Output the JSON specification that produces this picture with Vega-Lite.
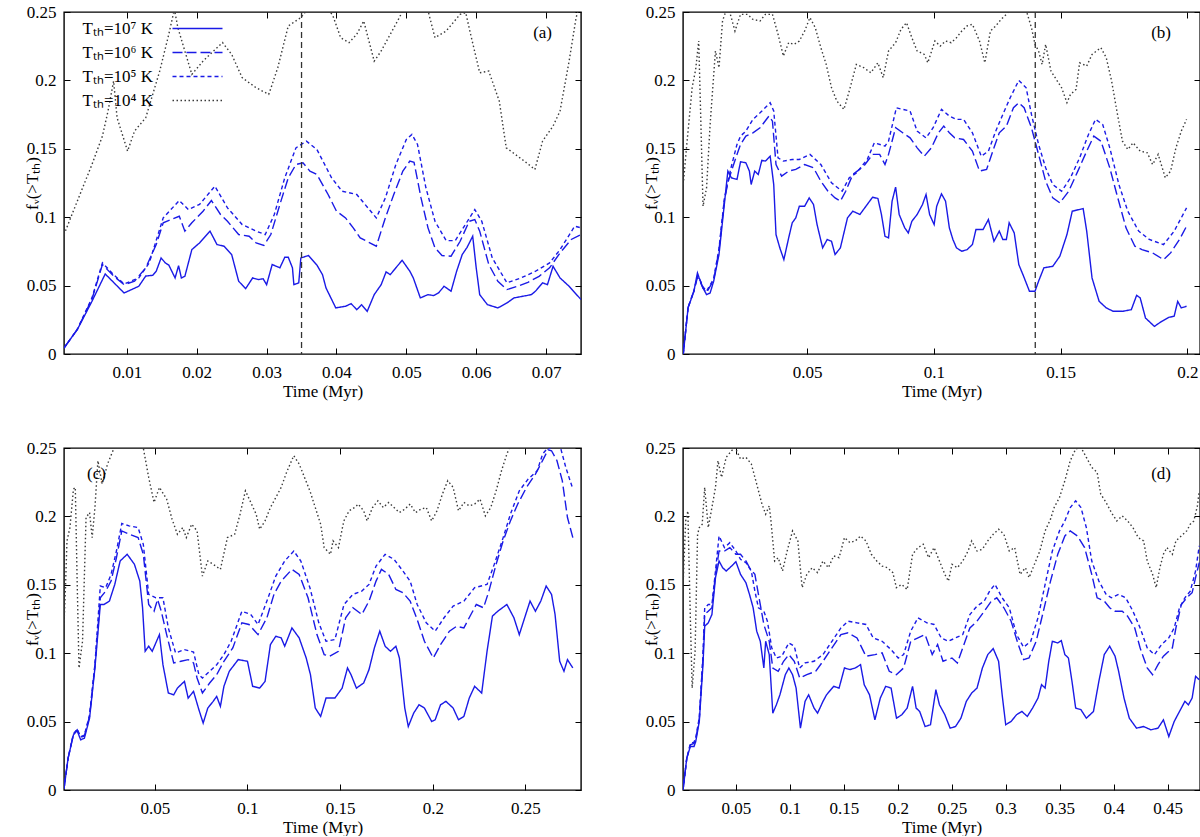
{
"$schema":"https://vega.github.io/schema/vega-lite/v6.json",
"padding":{"left":22,"top":2,"right":0,"bottom":0},
"background":"white",
"config":{"font":"Liberation Serif","view":{"stroke":"#000","strokeWidth":1.4},
"axis":{"grid":false,"domain":false,"ticks":true,"tickSize":-6,"tickColor":"#000","tickWidth":1,"labelFont":"Liberation Serif","labelFontSize":17,"labelColor":"#000","labelPadding":14,"labelFlush":false,"labelOverlap":false,"titleFont":"Liberation Serif","titleFontSize":17,"titleFontWeight":"normal","titleColor":"#000","titlePadding":3},
"axisX":{"labelPadding":16},
"title":{"font":"Liberation Serif","fontSize":17,"fontWeight":"normal","color":"#000"}},
"datasets":{
"main":[
{"p":"a","s":"T7","t":0.001,"f":0.0044},{"p":"a","s":"T7","t":0.0029,"f":0.0178},{"p":"a","s":"T7","t":0.005,"f":0.0385},{"p":"a","s":"T7","t":0.0069,"f":0.0585},{"p":"a","s":"T7","t":0.0096,"f":0.0446},{"p":"a","s":"T7","t":0.0117,"f":0.0495},{"p":"a","s":"T7","t":0.0127,"f":0.057},{"p":"a","s":"T7","t":0.0137,"f":0.0575},{"p":"a","s":"T7","t":0.0142,"f":0.0605},{"p":"a","s":"T7","t":0.0149,"f":0.0702},{"p":"a","s":"T7","t":0.0155,"f":0.0666},{"p":"a","s":"T7","t":0.016,"f":0.065},{"p":"a","s":"T7","t":0.0169,"f":0.0556},{"p":"a","s":"T7","t":0.0174,"f":0.0646},{"p":"a","s":"T7","t":0.0178,"f":0.0556},{"p":"a","s":"T7","t":0.0183,"f":0.0568},{"p":"a","s":"T7","t":0.0193,"f":0.0763},{"p":"a","s":"T7","t":0.0204,"f":0.0812},{"p":"a","s":"T7","t":0.0219,"f":0.0898},{"p":"a","s":"T7","t":0.0229,"f":0.08},{"p":"a","s":"T7","t":0.0239,"f":0.0788},{"p":"a","s":"T7","t":0.025,"f":0.0727},{"p":"a","s":"T7","t":0.026,"f":0.0532},{"p":"a","s":"T7","t":0.027,"f":0.0478},{"p":"a","s":"T7","t":0.028,"f":0.0556},{"p":"a","s":"T7","t":0.0288,"f":0.0544},{"p":"a","s":"T7","t":0.0295,"f":0.055},{"p":"a","s":"T7","t":0.03,"f":0.0507},{"p":"a","s":"T7","t":0.0308,"f":0.0654},{"p":"a","s":"T7","t":0.0319,"f":0.063},{"p":"a","s":"T7","t":0.0326,"f":0.0707},{"p":"a","s":"T7","t":0.0331,"f":0.0707},{"p":"a","s":"T7","t":0.0337,"f":0.063},{"p":"a","s":"T7","t":0.0339,"f":0.0507},{"p":"a","s":"T7","t":0.0346,"f":0.052},{"p":"a","s":"T7","t":0.0349,"f":0.0702},{"p":"a","s":"T7","t":0.036,"f":0.072},{"p":"a","s":"T7","t":0.0372,"f":0.065},{"p":"a","s":"T7","t":0.038,"f":0.058},{"p":"a","s":"T7","t":0.0385,"f":0.0483},{"p":"a","s":"T7","t":0.0399,"f":0.0337},{"p":"a","s":"T7","t":0.0413,"f":0.0349},{"p":"a","s":"T7","t":0.0421,"f":0.0368},{"p":"a","s":"T7","t":0.0429,"f":0.0324},{"p":"a","s":"T7","t":0.0436,"f":0.036},{"p":"a","s":"T7","t":0.0444,"f":0.0312},{"p":"a","s":"T7","t":0.0454,"f":0.0434},{"p":"a","s":"T7","t":0.0464,"f":0.0507},{"p":"a","s":"T7","t":0.0471,"f":0.06},{"p":"a","s":"T7","t":0.0477,"f":0.058},{"p":"a","s":"T7","t":0.0485,"f":0.063},{"p":"a","s":"T7","t":0.0494,"f":0.0685},{"p":"a","s":"T7","t":0.0505,"f":0.0605},{"p":"a","s":"T7","t":0.051,"f":0.0556},{"p":"a","s":"T7","t":0.052,"f":0.041},{"p":"a","s":"T7","t":0.0531,"f":0.0434},{"p":"a","s":"T7","t":0.0539,"f":0.0427},{"p":"a","s":"T7","t":0.0546,"f":0.0446},{"p":"a","s":"T7","t":0.0554,"f":0.0495},{"p":"a","s":"T7","t":0.0564,"f":0.0459},{"p":"a","s":"T7","t":0.0572,"f":0.0605},{"p":"a","s":"T7","t":0.058,"f":0.0727},{"p":"a","s":"T7","t":0.0587,"f":0.078},{"p":"a","s":"T7","t":0.0595,"f":0.0861},{"p":"a","s":"T7","t":0.06,"f":0.063},{"p":"a","s":"T7","t":0.0605,"f":0.0434},{"p":"a","s":"T7","t":0.0616,"f":0.0361},{"p":"a","s":"T7","t":0.0631,"f":0.0337},{"p":"a","s":"T7","t":0.0644,"f":0.0373},{"p":"a","s":"T7","t":0.0654,"f":0.041},{"p":"a","s":"T7","t":0.0672,"f":0.0427},{"p":"a","s":"T7","t":0.0679,"f":0.0434},{"p":"a","s":"T7","t":0.0685,"f":0.046},{"p":"a","s":"T7","t":0.0695,"f":0.052},{"p":"a","s":"T7","t":0.0702,"f":0.0507},{"p":"a","s":"T7","t":0.071,"f":0.0641},{"p":"a","s":"T7","t":0.072,"f":0.0556},{"p":"a","s":"T7","t":0.0733,"f":0.0495},{"p":"a","s":"T7","t":0.075,"f":0.0398},
{"p":"a","s":"T6","t":0.001,"f":0.0044},{"p":"a","s":"T6","t":0.0029,"f":0.018},{"p":"a","s":"T6","t":0.005,"f":0.04},{"p":"a","s":"T6","t":0.0065,"f":0.0654},{"p":"a","s":"T6","t":0.0081,"f":0.057},{"p":"a","s":"T6","t":0.0096,"f":0.0507},{"p":"a","s":"T6","t":0.0111,"f":0.0532},{"p":"a","s":"T6","t":0.0127,"f":0.063},{"p":"a","s":"T6","t":0.0142,"f":0.08},{"p":"a","s":"T6","t":0.0152,"f":0.0959},{"p":"a","s":"T6","t":0.0175,"f":0.1007},{"p":"a","s":"T6","t":0.0183,"f":0.0898},{"p":"a","s":"T6","t":0.0193,"f":0.0959},{"p":"a","s":"T6","t":0.0209,"f":0.1044},{"p":"a","s":"T6","t":0.0221,"f":0.1122},{"p":"a","s":"T6","t":0.0234,"f":0.102},{"p":"a","s":"T6","t":0.0244,"f":0.097},{"p":"a","s":"T6","t":0.026,"f":0.0873},{"p":"a","s":"T6","t":0.0275,"f":0.0861},{"p":"a","s":"T6","t":0.0285,"f":0.0812},{"p":"a","s":"T6","t":0.0296,"f":0.0793},{"p":"a","s":"T6","t":0.0306,"f":0.0873},{"p":"a","s":"T6","t":0.0319,"f":0.1093},{"p":"a","s":"T6","t":0.0331,"f":0.1288},{"p":"a","s":"T6","t":0.0342,"f":0.1385},{"p":"a","s":"T6","t":0.0352,"f":0.1398},{"p":"a","s":"T6","t":0.0362,"f":0.1337},{"p":"a","s":"T6","t":0.0372,"f":0.1312},{"p":"a","s":"T6","t":0.0388,"f":0.1166},{"p":"a","s":"T6","t":0.04,"f":0.1044},{"p":"a","s":"T6","t":0.0413,"f":0.0995},{"p":"a","s":"T6","t":0.0424,"f":0.0922},{"p":"a","s":"T6","t":0.0434,"f":0.0849},{"p":"a","s":"T6","t":0.0457,"f":0.0788},{"p":"a","s":"T6","t":0.047,"f":0.0995},{"p":"a","s":"T6","t":0.0482,"f":0.1166},{"p":"a","s":"T6","t":0.0495,"f":0.1337},{"p":"a","s":"T6","t":0.0505,"f":0.141},{"p":"a","s":"T6","t":0.0511,"f":0.1402},{"p":"a","s":"T6","t":0.0521,"f":0.1141},{"p":"a","s":"T6","t":0.0531,"f":0.0922},{"p":"a","s":"T6","t":0.0541,"f":0.0776},{"p":"a","s":"T6","t":0.0551,"f":0.072},{"p":"a","s":"T6","t":0.0564,"f":0.0715},{"p":"a","s":"T6","t":0.0577,"f":0.0824},{"p":"a","s":"T6","t":0.059,"f":0.097},{"p":"a","s":"T6","t":0.0598,"f":0.0983},{"p":"a","s":"T6","t":0.0605,"f":0.0898},{"p":"a","s":"T6","t":0.0618,"f":0.0654},{"p":"a","s":"T6","t":0.0631,"f":0.0532},{"p":"a","s":"T6","t":0.0644,"f":0.0471},{"p":"a","s":"T6","t":0.0659,"f":0.0495},{"p":"a","s":"T6","t":0.0674,"f":0.0524},{"p":"a","s":"T6","t":0.069,"f":0.0568},{"p":"a","s":"T6","t":0.0705,"f":0.063},{"p":"a","s":"T6","t":0.072,"f":0.0739},{"p":"a","s":"T6","t":0.0736,"f":0.0837},{"p":"a","s":"T6","t":0.075,"f":0.0873},
{"p":"a","s":"T5","t":0.001,"f":0.0044},{"p":"a","s":"T5","t":0.0029,"f":0.018},{"p":"a","s":"T5","t":0.005,"f":0.041},{"p":"a","s":"T5","t":0.0065,"f":0.0666},{"p":"a","s":"T5","t":0.0081,"f":0.058},{"p":"a","s":"T5","t":0.0096,"f":0.0512},{"p":"a","s":"T5","t":0.0117,"f":0.0556},{"p":"a","s":"T5","t":0.0132,"f":0.0666},{"p":"a","s":"T5","t":0.0152,"f":0.0995},{"p":"a","s":"T5","t":0.0175,"f":0.1122},{"p":"a","s":"T5","t":0.0188,"f":0.1056},{"p":"a","s":"T5","t":0.0204,"f":0.1093},{"p":"a","s":"T5","t":0.0226,"f":0.1227},{"p":"a","s":"T5","t":0.0244,"f":0.1068},{"p":"a","s":"T5","t":0.0265,"f":0.0946},{"p":"a","s":"T5","t":0.0285,"f":0.0898},{"p":"a","s":"T5","t":0.0298,"f":0.0873},{"p":"a","s":"T5","t":0.0311,"f":0.102},{"p":"a","s":"T5","t":0.0326,"f":0.1288},{"p":"a","s":"T5","t":0.0342,"f":0.1507},{"p":"a","s":"T5","t":0.0357,"f":0.1556},{"p":"a","s":"T5","t":0.0372,"f":0.1495},{"p":"a","s":"T5","t":0.0393,"f":0.1288},{"p":"a","s":"T5","t":0.0408,"f":0.119},{"p":"a","s":"T5","t":0.0429,"f":0.1166},{"p":"a","s":"T5","t":0.0457,"f":0.0995},{"p":"a","s":"T5","t":0.047,"f":0.1141},{"p":"a","s":"T5","t":0.0485,"f":0.1385},{"p":"a","s":"T5","t":0.05,"f":0.1568},{"p":"a","s":"T5","t":0.0508,"f":0.1605},{"p":"a","s":"T5","t":0.0516,"f":0.1532},{"p":"a","s":"T5","t":0.0528,"f":0.1215},{"p":"a","s":"T5","t":0.0541,"f":0.097},{"p":"a","s":"T5","t":0.0557,"f":0.0829},{"p":"a","s":"T5","t":0.057,"f":0.0829},{"p":"a","s":"T5","t":0.058,"f":0.091},{"p":"a","s":"T5","t":0.0598,"f":0.1056},{"p":"a","s":"T5","t":0.0608,"f":0.097},{"p":"a","s":"T5","t":0.0623,"f":0.0702},{"p":"a","s":"T5","t":0.0644,"f":0.052},{"p":"a","s":"T5","t":0.0664,"f":0.0556},{"p":"a","s":"T5","t":0.0685,"f":0.0605},{"p":"a","s":"T5","t":0.0705,"f":0.0666},{"p":"a","s":"T5","t":0.072,"f":0.0763},{"p":"a","s":"T5","t":0.0741,"f":0.0934},{"p":"a","s":"T5","t":0.075,"f":0.0922},
{"p":"a","s":"T4","t":0.001,"f":0.0873},{"p":"a","s":"T4","t":0.0029,"f":0.1117},{"p":"a","s":"T4","t":0.005,"f":0.1385},{"p":"a","s":"T4","t":0.0065,"f":0.1593},{"p":"a","s":"T4","t":0.0073,"f":0.1776},{"p":"a","s":"T4","t":0.0081,"f":0.1995},{"p":"a","s":"T4","t":0.0086,"f":0.1727},{"p":"a","s":"T4","t":0.0101,"f":0.1483},{"p":"a","s":"T4","t":0.0111,"f":0.163},{"p":"a","s":"T4","t":0.0127,"f":0.1727},{"p":"a","s":"T4","t":0.0147,"f":0.2068},{"p":"a","s":"T4","t":0.016,"f":0.2337},{"p":"a","s":"T4","t":0.0168,"f":0.252},{"p":"a","s":"T4","t":0.0173,"f":0.2385},{"p":"a","s":"T4","t":0.0193,"f":0.2044},{"p":"a","s":"T4","t":0.0209,"f":0.2141},{"p":"a","s":"T4","t":0.0224,"f":0.2215},{"p":"a","s":"T4","t":0.0237,"f":0.2276},{"p":"a","s":"T4","t":0.025,"f":0.219},{"p":"a","s":"T4","t":0.0265,"f":0.202},{"p":"a","s":"T4","t":0.0285,"f":0.1946},{"p":"a","s":"T4","t":0.0303,"f":0.1898},{"p":"a","s":"T4","t":0.0306,"f":0.1941},{"p":"a","s":"T4","t":0.0316,"f":0.2093},{"p":"a","s":"T4","t":0.0331,"f":0.2398},{"p":"a","s":"T4","t":0.0349,"f":0.2459},{"p":"a","s":"T4","t":0.0357,"f":0.251},{"p":"a","s":"T4","t":0.0375,"f":0.262},{"p":"a","s":"T4","t":0.0395,"f":0.2471},{"p":"a","s":"T4","t":0.0406,"f":0.2312},{"p":"a","s":"T4","t":0.0418,"f":0.2276},{"p":"a","s":"T4","t":0.0429,"f":0.2337},{"p":"a","s":"T4","t":0.0439,"f":0.2434},{"p":"a","s":"T4","t":0.0454,"f":0.2141},{"p":"a","s":"T4","t":0.0464,"f":0.2215},{"p":"a","s":"T4","t":0.0477,"f":0.2337},{"p":"a","s":"T4","t":0.049,"f":0.2459},{"p":"a","s":"T4","t":0.0495,"f":0.251},{"p":"a","s":"T4","t":0.0513,"f":0.262},{"p":"a","s":"T4","t":0.0531,"f":0.251},{"p":"a","s":"T4","t":0.0541,"f":0.2312},{"p":"a","s":"T4","t":0.0557,"f":0.2361},{"p":"a","s":"T4","t":0.0577,"f":0.2483},{"p":"a","s":"T4","t":0.0585,"f":0.2495},{"p":"a","s":"T4","t":0.0592,"f":0.2337},{"p":"a","s":"T4","t":0.0605,"f":0.2056},{"p":"a","s":"T4","t":0.0618,"f":0.2068},{"p":"a","s":"T4","t":0.0633,"f":0.1849},{"p":"a","s":"T4","t":0.0643,"f":0.1507},{"p":"a","s":"T4","t":0.0656,"f":0.1459},{"p":"a","s":"T4","t":0.0669,"f":0.141},{"p":"a","s":"T4","t":0.0684,"f":0.1349},{"p":"a","s":"T4","t":0.0695,"f":0.1556},{"p":"a","s":"T4","t":0.071,"f":0.1666},{"p":"a","s":"T4","t":0.072,"f":0.1776},{"p":"a","s":"T4","t":0.0733,"f":0.2141},{"p":"a","s":"T4","t":0.0743,"f":0.2459},{"p":"a","s":"T4","t":0.075,"f":0.258},
{"p":"b","s":"T7","t":0.0011,"f":0},{"p":"b","s":"T7","t":0.003,"f":0.0337},{"p":"b","s":"T7","t":0.0053,"f":0.0459},{"p":"b","s":"T7","t":0.0067,"f":0.0593},{"p":"b","s":"T7","t":0.0074,"f":0.0556},{"p":"b","s":"T7","t":0.0089,"f":0.0483},{"p":"b","s":"T7","t":0.0103,"f":0.0434},{"p":"b","s":"T7","t":0.0117,"f":0.0446},{"p":"b","s":"T7","t":0.0131,"f":0.0532},{"p":"b","s":"T7","t":0.0152,"f":0.0727},{"p":"b","s":"T7","t":0.0173,"f":0.1093},{"p":"b","s":"T7","t":0.0187,"f":0.1337},{"p":"b","s":"T7","t":0.0201,"f":0.1288},{"p":"b","s":"T7","t":0.0223,"f":0.1276},{"p":"b","s":"T7","t":0.0237,"f":0.1405},{"p":"b","s":"T7","t":0.0258,"f":0.1398},{"p":"b","s":"T7","t":0.0272,"f":0.1337},{"p":"b","s":"T7","t":0.0279,"f":0.1239},{"p":"b","s":"T7","t":0.0293,"f":0.1337},{"p":"b","s":"T7","t":0.0307,"f":0.1312},{"p":"b","s":"T7","t":0.0321,"f":0.1415},{"p":"b","s":"T7","t":0.0335,"f":0.141},{"p":"b","s":"T7","t":0.0354,"f":0.1446},{"p":"b","s":"T7","t":0.0368,"f":0.1239},{"p":"b","s":"T7","t":0.0377,"f":0.0873},{"p":"b","s":"T7","t":0.0392,"f":0.0776},{"p":"b","s":"T7","t":0.0408,"f":0.069},{"p":"b","s":"T7","t":0.0427,"f":0.0849},{"p":"b","s":"T7","t":0.0441,"f":0.0959},{"p":"b","s":"T7","t":0.0455,"f":0.0995},{"p":"b","s":"T7","t":0.0469,"f":0.108},{"p":"b","s":"T7","t":0.049,"f":0.108},{"p":"b","s":"T7","t":0.0508,"f":0.1141},{"p":"b","s":"T7","t":0.0525,"f":0.1093},{"p":"b","s":"T7","t":0.0539,"f":0.0946},{"p":"b","s":"T7","t":0.0561,"f":0.0776},{"p":"b","s":"T7","t":0.0579,"f":0.0837},{"p":"b","s":"T7","t":0.0596,"f":0.0824},{"p":"b","s":"T7","t":0.061,"f":0.0727},{"p":"b","s":"T7","t":0.0631,"f":0.0776},{"p":"b","s":"T7","t":0.0659,"f":0.0995},{"p":"b","s":"T7","t":0.068,"f":0.1044},{"p":"b","s":"T7","t":0.0708,"f":0.102},{"p":"b","s":"T7","t":0.0737,"f":0.1093},{"p":"b","s":"T7","t":0.0758,"f":0.1146},{"p":"b","s":"T7","t":0.0779,"f":0.1137},{"p":"b","s":"T7","t":0.0793,"f":0.102},{"p":"b","s":"T7","t":0.0807,"f":0.0861},{"p":"b","s":"T7","t":0.0821,"f":0.0849},{"p":"b","s":"T7","t":0.0835,"f":0.1117},{"p":"b","s":"T7","t":0.0849,"f":0.122},{"p":"b","s":"T7","t":0.0863,"f":0.102},{"p":"b","s":"T7","t":0.0885,"f":0.0922},{"p":"b","s":"T7","t":0.0899,"f":0.0885},{"p":"b","s":"T7","t":0.0913,"f":0.097},{"p":"b","s":"T7","t":0.0934,"f":0.102},{"p":"b","s":"T7","t":0.0955,"f":0.1093},{"p":"b","s":"T7","t":0.0969,"f":0.1166},{"p":"b","s":"T7","t":0.0983,"f":0.102},{"p":"b","s":"T7","t":0.1001,"f":0.0946},{"p":"b","s":"T7","t":0.1011,"f":0.108},{"p":"b","s":"T7","t":0.103,"f":0.1171},{"p":"b","s":"T7","t":0.1046,"f":0.1117},{"p":"b","s":"T7","t":0.1061,"f":0.0922},{"p":"b","s":"T7","t":0.1075,"f":0.0837},{"p":"b","s":"T7","t":0.1089,"f":0.0776},{"p":"b","s":"T7","t":0.111,"f":0.0751},{"p":"b","s":"T7","t":0.1131,"f":0.0763},{"p":"b","s":"T7","t":0.1152,"f":0.08},{"p":"b","s":"T7","t":0.1166,"f":0.091},{"p":"b","s":"T7","t":0.1194,"f":0.091},{"p":"b","s":"T7","t":0.1215,"f":0.0983},{"p":"b","s":"T7","t":0.1237,"f":0.0824},{"p":"b","s":"T7","t":0.1258,"f":0.0898},{"p":"b","s":"T7","t":0.1272,"f":0.0837},{"p":"b","s":"T7","t":0.1286,"f":0.0837},{"p":"b","s":"T7","t":0.1297,"f":0.0959},{"p":"b","s":"T7","t":0.1317,"f":0.0885},{"p":"b","s":"T7","t":0.1335,"f":0.0654},{"p":"b","s":"T7","t":0.1354,"f":0.0568},{"p":"b","s":"T7","t":0.1377,"f":0.0459},{"p":"b","s":"T7","t":0.1399,"f":0.0459},{"p":"b","s":"T7","t":0.1413,"f":0.0532},{"p":"b","s":"T7","t":0.1434,"f":0.063},{"p":"b","s":"T7","t":0.1469,"f":0.0641},{"p":"b","s":"T7","t":0.1497,"f":0.0715},{"p":"b","s":"T7","t":0.1525,"f":0.0873},{"p":"b","s":"T7","t":0.1546,"f":0.1044},{"p":"b","s":"T7","t":0.1589,"f":0.1063},{"p":"b","s":"T7","t":0.1603,"f":0.0898},{"p":"b","s":"T7","t":0.1624,"f":0.0556},{"p":"b","s":"T7","t":0.1652,"f":0.0385},{"p":"b","s":"T7","t":0.168,"f":0.0337},{"p":"b","s":"T7","t":0.1708,"f":0.0312},{"p":"b","s":"T7","t":0.1744,"f":0.0312},{"p":"b","s":"T7","t":0.1779,"f":0.0324},{"p":"b","s":"T7","t":0.18,"f":0.0429},{"p":"b","s":"T7","t":0.1814,"f":0.041},{"p":"b","s":"T7","t":0.1835,"f":0.0263},{"p":"b","s":"T7","t":0.187,"f":0.0202},{"p":"b","s":"T7","t":0.1899,"f":0.0239},{"p":"b","s":"T7","t":0.1927,"f":0.0268},{"p":"b","s":"T7","t":0.1948,"f":0.0276},{"p":"b","s":"T7","t":0.1962,"f":0.0385},{"p":"b","s":"T7","t":0.1976,"f":0.0337},{"p":"b","s":"T7","t":0.1997,"f":0.0349},
{"p":"b","s":"T6","t":0.0011,"f":0},{"p":"b","s":"T6","t":0.003,"f":0.034},{"p":"b","s":"T6","t":0.0053,"f":0.046},{"p":"b","s":"T6","t":0.0067,"f":0.056},{"p":"b","s":"T6","t":0.0075,"f":0.054},{"p":"b","s":"T6","t":0.0089,"f":0.048},{"p":"b","s":"T6","t":0.0103,"f":0.045},{"p":"b","s":"T6","t":0.0131,"f":0.054},{"p":"b","s":"T6","t":0.0152,"f":0.076},{"p":"b","s":"T6","t":0.0173,"f":0.112},{"p":"b","s":"T6","t":0.0187,"f":0.1251},{"p":"b","s":"T6","t":0.0201,"f":0.1337},{"p":"b","s":"T6","t":0.0223,"f":0.1459},{"p":"b","s":"T6","t":0.0237,"f":0.1532},{"p":"b","s":"T6","t":0.0258,"f":0.1593},{"p":"b","s":"T6","t":0.0286,"f":0.1617},{"p":"b","s":"T6","t":0.0314,"f":0.1654},{"p":"b","s":"T6","t":0.0349,"f":0.1739},{"p":"b","s":"T6","t":0.0363,"f":0.1702},{"p":"b","s":"T6","t":0.0377,"f":0.1385},{"p":"b","s":"T6","t":0.0399,"f":0.13},{"p":"b","s":"T6","t":0.0427,"f":0.1337},{"p":"b","s":"T6","t":0.0455,"f":0.1349},{"p":"b","s":"T6","t":0.049,"f":0.1385},{"p":"b","s":"T6","t":0.0525,"f":0.1361},{"p":"b","s":"T6","t":0.0554,"f":0.1263},{"p":"b","s":"T6","t":0.0582,"f":0.119},{"p":"b","s":"T6","t":0.061,"f":0.1141},{"p":"b","s":"T6","t":0.0631,"f":0.1117},{"p":"b","s":"T6","t":0.0652,"f":0.119},{"p":"b","s":"T6","t":0.068,"f":0.1312},{"p":"b","s":"T6","t":0.0723,"f":0.1373},{"p":"b","s":"T6","t":0.0758,"f":0.1459},{"p":"b","s":"T6","t":0.0786,"f":0.1459},{"p":"b","s":"T6","t":0.0807,"f":0.1385},{"p":"b","s":"T6","t":0.0821,"f":0.1459},{"p":"b","s":"T6","t":0.0849,"f":0.1654},{"p":"b","s":"T6","t":0.0877,"f":0.1617},{"p":"b","s":"T6","t":0.0906,"f":0.158},{"p":"b","s":"T6","t":0.0934,"f":0.1507},{"p":"b","s":"T6","t":0.0962,"f":0.1446},{"p":"b","s":"T6","t":0.099,"f":0.1507},{"p":"b","s":"T6","t":0.1018,"f":0.1617},{"p":"b","s":"T6","t":0.1039,"f":0.1666},{"p":"b","s":"T6","t":0.1061,"f":0.1617},{"p":"b","s":"T6","t":0.1082,"f":0.158},{"p":"b","s":"T6","t":0.1117,"f":0.1568},{"p":"b","s":"T6","t":0.1152,"f":0.1483},{"p":"b","s":"T6","t":0.118,"f":0.1337},{"p":"b","s":"T6","t":0.1208,"f":0.1349},{"p":"b","s":"T6","t":0.1237,"f":0.1507},{"p":"b","s":"T6","t":0.1258,"f":0.1617},{"p":"b","s":"T6","t":0.1286,"f":0.1666},{"p":"b","s":"T6","t":0.1314,"f":0.18},{"p":"b","s":"T6","t":0.1335,"f":0.1837},{"p":"b","s":"T6","t":0.1356,"f":0.18},{"p":"b","s":"T6","t":0.1385,"f":0.1654},{"p":"b","s":"T6","t":0.1413,"f":0.1459},{"p":"b","s":"T6","t":0.1441,"f":0.1263},{"p":"b","s":"T6","t":0.1469,"f":0.1141},{"p":"b","s":"T6","t":0.1497,"f":0.1105},{"p":"b","s":"T6","t":0.1532,"f":0.119},{"p":"b","s":"T6","t":0.1568,"f":0.1337},{"p":"b","s":"T6","t":0.1603,"f":0.1483},{"p":"b","s":"T6","t":0.1631,"f":0.1593},{"p":"b","s":"T6","t":0.1659,"f":0.1556},{"p":"b","s":"T6","t":0.1694,"f":0.1361},{"p":"b","s":"T6","t":0.1722,"f":0.1166},{"p":"b","s":"T6","t":0.1758,"f":0.0922},{"p":"b","s":"T6","t":0.1793,"f":0.0788},{"p":"b","s":"T6","t":0.1821,"f":0.0763},{"p":"b","s":"T6","t":0.1863,"f":0.0739},{"p":"b","s":"T6","t":0.1906,"f":0.069},{"p":"b","s":"T6","t":0.1934,"f":0.0739},{"p":"b","s":"T6","t":0.1969,"f":0.0837},{"p":"b","s":"T6","t":0.1997,"f":0.0934},
{"p":"b","s":"T5","t":0.0011,"f":0},{"p":"b","s":"T5","t":0.003,"f":0.034},{"p":"b","s":"T5","t":0.0053,"f":0.046},{"p":"b","s":"T5","t":0.0067,"f":0.057},{"p":"b","s":"T5","t":0.0075,"f":0.055},{"p":"b","s":"T5","t":0.0089,"f":0.049},{"p":"b","s":"T5","t":0.0103,"f":0.046},{"p":"b","s":"T5","t":0.0131,"f":0.055},{"p":"b","s":"T5","t":0.0152,"f":0.077},{"p":"b","s":"T5","t":0.0173,"f":0.113},{"p":"b","s":"T5","t":0.0187,"f":0.1263},{"p":"b","s":"T5","t":0.0201,"f":0.1373},{"p":"b","s":"T5","t":0.0223,"f":0.1532},{"p":"b","s":"T5","t":0.0237,"f":0.1593},{"p":"b","s":"T5","t":0.0258,"f":0.1629},{"p":"b","s":"T5","t":0.0286,"f":0.1715},{"p":"b","s":"T5","t":0.0314,"f":0.1763},{"p":"b","s":"T5","t":0.0354,"f":0.1837},{"p":"b","s":"T5","t":0.0368,"f":0.1776},{"p":"b","s":"T5","t":0.0385,"f":0.1434},{"p":"b","s":"T5","t":0.0406,"f":0.141},{"p":"b","s":"T5","t":0.0441,"f":0.1422},{"p":"b","s":"T5","t":0.0469,"f":0.1422},{"p":"b","s":"T5","t":0.0511,"f":0.1459},{"p":"b","s":"T5","t":0.0554,"f":0.1385},{"p":"b","s":"T5","t":0.0596,"f":0.1251},{"p":"b","s":"T5","t":0.0638,"f":0.119},{"p":"b","s":"T5","t":0.0666,"f":0.1288},{"p":"b","s":"T5","t":0.0694,"f":0.1324},{"p":"b","s":"T5","t":0.0737,"f":0.1422},{"p":"b","s":"T5","t":0.0765,"f":0.1544},{"p":"b","s":"T5","t":0.0807,"f":0.152},{"p":"b","s":"T5","t":0.0821,"f":0.1556},{"p":"b","s":"T5","t":0.0852,"f":0.18},{"p":"b","s":"T5","t":0.0877,"f":0.1788},{"p":"b","s":"T5","t":0.0906,"f":0.1776},{"p":"b","s":"T5","t":0.0934,"f":0.1629},{"p":"b","s":"T5","t":0.0969,"f":0.158},{"p":"b","s":"T5","t":0.0997,"f":0.1654},{"p":"b","s":"T5","t":0.103,"f":0.1788},{"p":"b","s":"T5","t":0.1061,"f":0.1739},{"p":"b","s":"T5","t":0.1089,"f":0.1715},{"p":"b","s":"T5","t":0.1117,"f":0.1715},{"p":"b","s":"T5","t":0.1152,"f":0.1617},{"p":"b","s":"T5","t":0.1187,"f":0.1446},{"p":"b","s":"T5","t":0.1215,"f":0.1483},{"p":"b","s":"T5","t":0.1244,"f":0.1629},{"p":"b","s":"T5","t":0.1272,"f":0.1751},{"p":"b","s":"T5","t":0.1301,"f":0.1873},{"p":"b","s":"T5","t":0.1335,"f":0.2},{"p":"b","s":"T5","t":0.1364,"f":0.1946},{"p":"b","s":"T5","t":0.1385,"f":0.1751},{"p":"b","s":"T5","t":0.1413,"f":0.1532},{"p":"b","s":"T5","t":0.1441,"f":0.1361},{"p":"b","s":"T5","t":0.1469,"f":0.1239},{"p":"b","s":"T5","t":0.1504,"f":0.119},{"p":"b","s":"T5","t":0.1539,"f":0.1288},{"p":"b","s":"T5","t":0.1575,"f":0.1434},{"p":"b","s":"T5","t":0.161,"f":0.1605},{"p":"b","s":"T5","t":0.1638,"f":0.1715},{"p":"b","s":"T5","t":0.1666,"f":0.1678},{"p":"b","s":"T5","t":0.1694,"f":0.1507},{"p":"b","s":"T5","t":0.173,"f":0.1239},{"p":"b","s":"T5","t":0.1765,"f":0.1044},{"p":"b","s":"T5","t":0.1808,"f":0.0898},{"p":"b","s":"T5","t":0.185,"f":0.0837},{"p":"b","s":"T5","t":0.1906,"f":0.08},{"p":"b","s":"T5","t":0.1948,"f":0.0898},{"p":"b","s":"T5","t":0.1997,"f":0.1068},
{"p":"b","s":"T4","t":0.0011,"f":0.1239},{"p":"b","s":"T4","t":0.0025,"f":0.1532},{"p":"b","s":"T4","t":0.0046,"f":0.1946},{"p":"b","s":"T4","t":0.006,"f":0.208},{"p":"b","s":"T4","t":0.0072,"f":0.2288},{"p":"b","s":"T4","t":0.0079,"f":0.18},{"p":"b","s":"T4","t":0.0089,"f":0.108},{"p":"b","s":"T4","t":0.0103,"f":0.1215},{"p":"b","s":"T4","t":0.0117,"f":0.1678},{"p":"b","s":"T4","t":0.0138,"f":0.2215},{"p":"b","s":"T4","t":0.0152,"f":0.2093},{"p":"b","s":"T4","t":0.0166,"f":0.2434},{"p":"b","s":"T4","t":0.0187,"f":0.255},{"p":"b","s":"T4","t":0.0215,"f":0.2361},{"p":"b","s":"T4","t":0.0237,"f":0.2483},{"p":"b","s":"T4","t":0.0265,"f":0.2483},{"p":"b","s":"T4","t":0.0286,"f":0.2446},{"p":"b","s":"T4","t":0.0314,"f":0.2434},{"p":"b","s":"T4","t":0.0335,"f":0.2483},{"p":"b","s":"T4","t":0.0363,"f":0.2483},{"p":"b","s":"T4","t":0.0385,"f":0.2337},{"p":"b","s":"T4","t":0.0406,"f":0.2178},{"p":"b","s":"T4","t":0.0427,"f":0.2276},{"p":"b","s":"T4","t":0.0448,"f":0.2263},{"p":"b","s":"T4","t":0.0469,"f":0.2288},{"p":"b","s":"T4","t":0.049,"f":0.2361},{"p":"b","s":"T4","t":0.0511,"f":0.2459},{"p":"b","s":"T4","t":0.0532,"f":0.2385},{"p":"b","s":"T4","t":0.0554,"f":0.2239},{"p":"b","s":"T4","t":0.0575,"f":0.2117},{"p":"b","s":"T4","t":0.0596,"f":0.1946},{"p":"b","s":"T4","t":0.0617,"f":0.1849},{"p":"b","s":"T4","t":0.0645,"f":0.1788},{"p":"b","s":"T4","t":0.0666,"f":0.1922},{"p":"b","s":"T4","t":0.0694,"f":0.2117},{"p":"b","s":"T4","t":0.0723,"f":0.2093},{"p":"b","s":"T4","t":0.0751,"f":0.2056},{"p":"b","s":"T4","t":0.0779,"f":0.2129},{"p":"b","s":"T4","t":0.08,"f":0.202},{"p":"b","s":"T4","t":0.0821,"f":0.2215},{"p":"b","s":"T4","t":0.0849,"f":0.2276},{"p":"b","s":"T4","t":0.087,"f":0.2373},{"p":"b","s":"T4","t":0.0892,"f":0.2422},{"p":"b","s":"T4","t":0.0913,"f":0.2312},{"p":"b","s":"T4","t":0.0934,"f":0.2215},{"p":"b","s":"T4","t":0.0962,"f":0.219},{"p":"b","s":"T4","t":0.0976,"f":0.2129},{"p":"b","s":"T4","t":0.1004,"f":0.2288},{"p":"b","s":"T4","t":0.1025,"f":0.2251},{"p":"b","s":"T4","t":0.1046,"f":0.2288},{"p":"b","s":"T4","t":0.1068,"f":0.2276},{"p":"b","s":"T4","t":0.1089,"f":0.2312},{"p":"b","s":"T4","t":0.111,"f":0.2361},{"p":"b","s":"T4","t":0.1131,"f":0.2398},{"p":"b","s":"T4","t":0.1152,"f":0.241},{"p":"b","s":"T4","t":0.118,"f":0.2288},{"p":"b","s":"T4","t":0.1201,"f":0.2129},{"p":"b","s":"T4","t":0.1223,"f":0.2361},{"p":"b","s":"T4","t":0.1244,"f":0.2398},{"p":"b","s":"T4","t":0.1265,"f":0.2446},{"p":"b","s":"T4","t":0.1286,"f":0.2483},{"p":"b","s":"T4","t":0.13,"f":0.252},{"p":"b","s":"T4","t":0.133,"f":0.262},{"p":"b","s":"T4","t":0.1363,"f":0.252},{"p":"b","s":"T4","t":0.1385,"f":0.2385},{"p":"b","s":"T4","t":0.1399,"f":0.2263},{"p":"b","s":"T4","t":0.1413,"f":0.2215},{"p":"b","s":"T4","t":0.1427,"f":0.2117},{"p":"b","s":"T4","t":0.1441,"f":0.2263},{"p":"b","s":"T4","t":0.1462,"f":0.2068},{"p":"b","s":"T4","t":0.1483,"f":0.2007},{"p":"b","s":"T4","t":0.1504,"f":0.1946},{"p":"b","s":"T4","t":0.1525,"f":0.1837},{"p":"b","s":"T4","t":0.1539,"f":0.1898},{"p":"b","s":"T4","t":0.1561,"f":0.1934},{"p":"b","s":"T4","t":0.1575,"f":0.2129},{"p":"b","s":"T4","t":0.1603,"f":0.2105},{"p":"b","s":"T4","t":0.1624,"f":0.219},{"p":"b","s":"T4","t":0.1659,"f":0.2239},{"p":"b","s":"T4","t":0.168,"f":0.2166},{"p":"b","s":"T4","t":0.1701,"f":0.1998},{"p":"b","s":"T4","t":0.1722,"f":0.1776},{"p":"b","s":"T4","t":0.1744,"f":0.1556},{"p":"b","s":"T4","t":0.1765,"f":0.1495},{"p":"b","s":"T4","t":0.1786,"f":0.1544},{"p":"b","s":"T4","t":0.1814,"f":0.1483},{"p":"b","s":"T4","t":0.1842,"f":0.1471},{"p":"b","s":"T4","t":0.1863,"f":0.1385},{"p":"b","s":"T4","t":0.1885,"f":0.1459},{"p":"b","s":"T4","t":0.1913,"f":0.1288},{"p":"b","s":"T4","t":0.1934,"f":0.1337},{"p":"b","s":"T4","t":0.1955,"f":0.1507},{"p":"b","s":"T4","t":0.1976,"f":0.1629},{"p":"b","s":"T4","t":0.1997,"f":0.1715},
{"p":"c","s":"T7","t":0.001,"f":0.001},{"p":"c","s":"T7","t":0.0032,"f":0.0232},{"p":"c","s":"T7","t":0.0061,"f":0.0403},{"p":"c","s":"T7","t":0.0081,"f":0.0433},{"p":"c","s":"T7","t":0.01,"f":0.0367},{"p":"c","s":"T7","t":0.012,"f":0.0379},{"p":"c","s":"T7","t":0.0148,"f":0.0525},{"p":"c","s":"T7","t":0.0177,"f":0.0892},{"p":"c","s":"T7","t":0.0206,"f":0.1356},{"p":"c","s":"T7","t":0.0226,"f":0.1356},{"p":"c","s":"T7","t":0.0255,"f":0.1381},{"p":"c","s":"T7","t":0.0284,"f":0.1503},{"p":"c","s":"T7","t":0.0313,"f":0.1674},{"p":"c","s":"T7","t":0.0351,"f":0.1723},{"p":"c","s":"T7","t":0.039,"f":0.165},{"p":"c","s":"T7","t":0.0419,"f":0.1527},{"p":"c","s":"T7","t":0.0434,"f":0.1332},{"p":"c","s":"T7","t":0.0448,"f":0.1014},{"p":"c","s":"T7","t":0.0467,"f":0.1051},{"p":"c","s":"T7","t":0.0486,"f":0.1014},{"p":"c","s":"T7","t":0.0525,"f":0.1136},{"p":"c","s":"T7","t":0.0544,"f":0.0916},{"p":"c","s":"T7","t":0.0573,"f":0.0709},{"p":"c","s":"T7","t":0.0602,"f":0.0696},{"p":"c","s":"T7","t":0.0622,"f":0.0745},{"p":"c","s":"T7","t":0.066,"f":0.0794},{"p":"c","s":"T7","t":0.068,"f":0.0672},{"p":"c","s":"T7","t":0.0709,"f":0.0721},{"p":"c","s":"T7","t":0.0738,"f":0.0587},{"p":"c","s":"T7","t":0.0761,"f":0.0489},{"p":"c","s":"T7","t":0.0786,"f":0.0599},{"p":"c","s":"T7","t":0.0815,"f":0.0648},{"p":"c","s":"T7","t":0.0834,"f":0.0684},{"p":"c","s":"T7","t":0.0854,"f":0.0611},{"p":"c","s":"T7","t":0.0873,"f":0.0758},{"p":"c","s":"T7","t":0.0902,"f":0.0868},{"p":"c","s":"T7","t":0.095,"f":0.0953},{"p":"c","s":"T7","t":0.1,"f":0.0941},{"p":"c","s":"T7","t":0.1028,"f":0.0758},{"p":"c","s":"T7","t":0.1066,"f":0.0745},{"p":"c","s":"T7","t":0.1095,"f":0.0794},{"p":"c","s":"T7","t":0.1124,"f":0.1063},{"p":"c","s":"T7","t":0.1153,"f":0.1124},{"p":"c","s":"T7","t":0.1182,"f":0.1112},{"p":"c","s":"T7","t":0.1201,"f":0.1051},{"p":"c","s":"T7","t":0.124,"f":0.1185},{"p":"c","s":"T7","t":0.1279,"f":0.1112},{"p":"c","s":"T7","t":0.1317,"f":0.0965},{"p":"c","s":"T7","t":0.134,"f":0.0843},{"p":"c","s":"T7","t":0.1366,"f":0.0599},{"p":"c","s":"T7","t":0.1395,"f":0.0538},{"p":"c","s":"T7","t":0.1424,"f":0.0672},{"p":"c","s":"T7","t":0.1472,"f":0.0672},{"p":"c","s":"T7","t":0.1511,"f":0.0745},{"p":"c","s":"T7","t":0.154,"f":0.0892},{"p":"c","s":"T7","t":0.1559,"f":0.0843},{"p":"c","s":"T7","t":0.1588,"f":0.0745},{"p":"c","s":"T7","t":0.1627,"f":0.0782},{"p":"c","s":"T7","t":0.1656,"f":0.088},{"p":"c","s":"T7","t":0.1685,"f":0.1039},{"p":"c","s":"T7","t":0.1714,"f":0.1161},{"p":"c","s":"T7","t":0.1743,"f":0.1051},{"p":"c","s":"T7","t":0.1772,"f":0.1014},{"p":"c","s":"T7","t":0.1801,"f":0.1051},{"p":"c","s":"T7","t":0.182,"f":0.0965},{"p":"c","s":"T7","t":0.1849,"f":0.0599},{"p":"c","s":"T7","t":0.1868,"f":0.0464},{"p":"c","s":"T7","t":0.1897,"f":0.0562},{"p":"c","s":"T7","t":0.1926,"f":0.0623},{"p":"c","s":"T7","t":0.1955,"f":0.0599},{"p":"c","s":"T7","t":0.1994,"f":0.0501},{"p":"c","s":"T7","t":0.2013,"f":0.0513},{"p":"c","s":"T7","t":0.2042,"f":0.0623},{"p":"c","s":"T7","t":0.2071,"f":0.0648},{"p":"c","s":"T7","t":0.211,"f":0.0599},{"p":"c","s":"T7","t":0.2139,"f":0.0513},{"p":"c","s":"T7","t":0.2168,"f":0.0538},{"p":"c","s":"T7","t":0.2197,"f":0.0672},{"p":"c","s":"T7","t":0.2226,"f":0.0758},{"p":"c","s":"T7","t":0.2264,"f":0.0709},{"p":"c","s":"T7","t":0.2293,"f":0.1014},{"p":"c","s":"T7","t":0.2322,"f":0.1271},{"p":"c","s":"T7","t":0.2351,"f":0.1307},{"p":"c","s":"T7","t":0.24,"f":0.1356},{"p":"c","s":"T7","t":0.2438,"f":0.1259},{"p":"c","s":"T7","t":0.2467,"f":0.1136},{"p":"c","s":"T7","t":0.2496,"f":0.1259},{"p":"c","s":"T7","t":0.2525,"f":0.1381},{"p":"c","s":"T7","t":0.2554,"f":0.1307},{"p":"c","s":"T7","t":0.2583,"f":0.1381},{"p":"c","s":"T7","t":0.2612,"f":0.1491},{"p":"c","s":"T7","t":0.2641,"f":0.143},{"p":"c","s":"T7","t":0.266,"f":0.1283},{"p":"c","s":"T7","t":0.2685,"f":0.0941},{"p":"c","s":"T7","t":0.2708,"f":0.0868},{"p":"c","s":"T7","t":0.2727,"f":0.0953},{"p":"c","s":"T7","t":0.2756,"f":0.0892},
{"p":"c","s":"T6","t":0.001,"f":0.001},{"p":"c","s":"T6","t":0.0032,"f":0.0232},{"p":"c","s":"T6","t":0.0061,"f":0.041},{"p":"c","s":"T6","t":0.0081,"f":0.044},{"p":"c","s":"T6","t":0.01,"f":0.0385},{"p":"c","s":"T6","t":0.012,"f":0.0395},{"p":"c","s":"T6","t":0.0148,"f":0.054},{"p":"c","s":"T6","t":0.0177,"f":0.091},{"p":"c","s":"T6","t":0.0206,"f":0.1405},{"p":"c","s":"T6","t":0.0235,"f":0.1454},{"p":"c","s":"T6","t":0.0264,"f":0.1527},{"p":"c","s":"T6","t":0.0293,"f":0.1698},{"p":"c","s":"T6","t":0.0322,"f":0.1894},{"p":"c","s":"T6","t":0.0361,"f":0.187},{"p":"c","s":"T6","t":0.041,"f":0.1845},{"p":"c","s":"T6","t":0.0438,"f":0.1723},{"p":"c","s":"T6","t":0.0467,"f":0.1356},{"p":"c","s":"T6","t":0.0496,"f":0.1307},{"p":"c","s":"T6","t":0.0515,"f":0.1393},{"p":"c","s":"T6","t":0.0535,"f":0.1307},{"p":"c","s":"T6","t":0.0564,"f":0.1136},{"p":"c","s":"T6","t":0.0602,"f":0.0929},{"p":"c","s":"T6","t":0.0641,"f":0.0941},{"p":"c","s":"T6","t":0.068,"f":0.0953},{"p":"c","s":"T6","t":0.0709,"f":0.0929},{"p":"c","s":"T6","t":0.0728,"f":0.0819},{"p":"c","s":"T6","t":0.0757,"f":0.0709},{"p":"c","s":"T6","t":0.0796,"f":0.0782},{"p":"c","s":"T6","t":0.0834,"f":0.0843},{"p":"c","s":"T6","t":0.0873,"f":0.0941},{"p":"c","s":"T6","t":0.0921,"f":0.1039},{"p":"c","s":"T6","t":0.097,"f":0.1222},{"p":"c","s":"T6","t":0.1008,"f":0.121},{"p":"c","s":"T6","t":0.1057,"f":0.1136},{"p":"c","s":"T6","t":0.1105,"f":0.1259},{"p":"c","s":"T6","t":0.1143,"f":0.143},{"p":"c","s":"T6","t":0.1182,"f":0.1527},{"p":"c","s":"T6","t":0.124,"f":0.1613},{"p":"c","s":"T6","t":0.1279,"f":0.1576},{"p":"c","s":"T6","t":0.1327,"f":0.1405},{"p":"c","s":"T6","t":0.1375,"f":0.1136},{"p":"c","s":"T6","t":0.1414,"f":0.099},{"p":"c","s":"T6","t":0.1443,"f":0.0978},{"p":"c","s":"T6","t":0.1491,"f":0.1014},{"p":"c","s":"T6","t":0.153,"f":0.1259},{"p":"c","s":"T6","t":0.1569,"f":0.1332},{"p":"c","s":"T6","t":0.1617,"f":0.1283},{"p":"c","s":"T6","t":0.1656,"f":0.1381},{"p":"c","s":"T6","t":0.1694,"f":0.1527},{"p":"c","s":"T6","t":0.1723,"f":0.1613},{"p":"c","s":"T6","t":0.1762,"f":0.1576},{"p":"c","s":"T6","t":0.1801,"f":0.1466},{"p":"c","s":"T6","t":0.1839,"f":0.1442},{"p":"c","s":"T6","t":0.1878,"f":0.1381},{"p":"c","s":"T6","t":0.1916,"f":0.1246},{"p":"c","s":"T6","t":0.1955,"f":0.1087},{"p":"c","s":"T6","t":0.2003,"f":0.0965},{"p":"c","s":"T6","t":0.2042,"f":0.1063},{"p":"c","s":"T6","t":0.209,"f":0.1161},{"p":"c","s":"T6","t":0.2129,"f":0.1197},{"p":"c","s":"T6","t":0.2168,"f":0.1185},{"p":"c","s":"T6","t":0.2206,"f":0.1283},{"p":"c","s":"T6","t":0.2235,"f":0.1356},{"p":"c","s":"T6","t":0.2274,"f":0.1332},{"p":"c","s":"T6","t":0.2303,"f":0.1454},{"p":"c","s":"T6","t":0.2342,"f":0.165},{"p":"c","s":"T6","t":0.238,"f":0.1821},{"p":"c","s":"T6","t":0.2419,"f":0.1967},{"p":"c","s":"T6","t":0.2458,"f":0.2089},{"p":"c","s":"T6","t":0.2506,"f":0.2212},{"p":"c","s":"T6","t":0.2554,"f":0.2309},{"p":"c","s":"T6","t":0.2593,"f":0.2409},{"p":"c","s":"T6","t":0.2622,"f":0.2487},{"p":"c","s":"T6","t":0.2641,"f":0.248},{"p":"c","s":"T6","t":0.267,"f":0.2409},{"p":"c","s":"T6","t":0.2699,"f":0.2261},{"p":"c","s":"T6","t":0.2727,"f":0.1992},{"p":"c","s":"T6","t":0.2756,"f":0.1845},
{"p":"c","s":"T5","t":0.001,"f":0.001},{"p":"c","s":"T5","t":0.0032,"f":0.0232},{"p":"c","s":"T5","t":0.0061,"f":0.041},{"p":"c","s":"T5","t":0.0081,"f":0.0445},{"p":"c","s":"T5","t":0.01,"f":0.039},{"p":"c","s":"T5","t":0.012,"f":0.04},{"p":"c","s":"T5","t":0.0148,"f":0.055},{"p":"c","s":"T5","t":0.0177,"f":0.092},{"p":"c","s":"T5","t":0.0206,"f":0.1491},{"p":"c","s":"T5","t":0.0235,"f":0.1479},{"p":"c","s":"T5","t":0.0264,"f":0.1576},{"p":"c","s":"T5","t":0.0293,"f":0.1747},{"p":"c","s":"T5","t":0.0322,"f":0.1948},{"p":"c","s":"T5","t":0.0361,"f":0.1931},{"p":"c","s":"T5","t":0.041,"f":0.1918},{"p":"c","s":"T5","t":0.0438,"f":0.1796},{"p":"c","s":"T5","t":0.0467,"f":0.143},{"p":"c","s":"T5","t":0.0506,"f":0.1405},{"p":"c","s":"T5","t":0.0544,"f":0.1405},{"p":"c","s":"T5","t":0.0573,"f":0.1185},{"p":"c","s":"T5","t":0.0612,"f":0.1002},{"p":"c","s":"T5","t":0.066,"f":0.1026},{"p":"c","s":"T5","t":0.0709,"f":0.1009},{"p":"c","s":"T5","t":0.0738,"f":0.0843},{"p":"c","s":"T5","t":0.0757,"f":0.0819},{"p":"c","s":"T5","t":0.0796,"f":0.0868},{"p":"c","s":"T5","t":0.0834,"f":0.0916},{"p":"c","s":"T5","t":0.0873,"f":0.099},{"p":"c","s":"T5","t":0.0912,"f":0.1087},{"p":"c","s":"T5","t":0.097,"f":0.1307},{"p":"c","s":"T5","t":0.1018,"f":0.1283},{"p":"c","s":"T5","t":0.1057,"f":0.121},{"p":"c","s":"T5","t":0.1105,"f":0.1381},{"p":"c","s":"T5","t":0.1153,"f":0.1564},{"p":"c","s":"T5","t":0.1201,"f":0.1674},{"p":"c","s":"T5","t":0.125,"f":0.1747},{"p":"c","s":"T5","t":0.1288,"f":0.1674},{"p":"c","s":"T5","t":0.1337,"f":0.1479},{"p":"c","s":"T5","t":0.1385,"f":0.1222},{"p":"c","s":"T5","t":0.1424,"f":0.1087},{"p":"c","s":"T5","t":0.1472,"f":0.11},{"p":"c","s":"T5","t":0.1521,"f":0.1356},{"p":"c","s":"T5","t":0.1569,"f":0.143},{"p":"c","s":"T5","t":0.1617,"f":0.1454},{"p":"c","s":"T5","t":0.1656,"f":0.1503},{"p":"c","s":"T5","t":0.1694,"f":0.1637},{"p":"c","s":"T5","t":0.1743,"f":0.1723},{"p":"c","s":"T5","t":0.1791,"f":0.1686},{"p":"c","s":"T5","t":0.1839,"f":0.1601},{"p":"c","s":"T5","t":0.1878,"f":0.1527},{"p":"c","s":"T5","t":0.1916,"f":0.1356},{"p":"c","s":"T5","t":0.1965,"f":0.1222},{"p":"c","s":"T5","t":0.2013,"f":0.1161},{"p":"c","s":"T5","t":0.2061,"f":0.1259},{"p":"c","s":"T5","t":0.211,"f":0.1344},{"p":"c","s":"T5","t":0.2168,"f":0.1381},{"p":"c","s":"T5","t":0.2226,"f":0.1479},{"p":"c","s":"T5","t":0.2293,"f":0.1503},{"p":"c","s":"T5","t":0.2332,"f":0.165},{"p":"c","s":"T5","t":0.238,"f":0.1845},{"p":"c","s":"T5","t":0.2419,"f":0.2016},{"p":"c","s":"T5","t":0.2467,"f":0.2187},{"p":"c","s":"T5","t":0.2515,"f":0.2273},{"p":"c","s":"T5","t":0.2564,"f":0.2334},{"p":"c","s":"T5","t":0.2593,"f":0.2456},{"p":"c","s":"T5","t":0.2612,"f":0.2487},{"p":"c","s":"T5","t":0.2641,"f":0.2505},{"p":"c","s":"T5","t":0.2689,"f":0.2505},{"p":"c","s":"T5","t":0.2718,"f":0.2358},{"p":"c","s":"T5","t":0.2756,"f":0.22},
{"p":"c","s":"T4","t":0.001,"f":0.121},{"p":"c","s":"T4","t":0.0018,"f":0.1479},{"p":"c","s":"T4","t":0.0026,"f":0.1821},{"p":"c","s":"T4","t":0.0042,"f":0.1918},{"p":"c","s":"T4","t":0.0061,"f":0.22},{"p":"c","s":"T4","t":0.0071,"f":0.2212},{"p":"c","s":"T4","t":0.0081,"f":0.1527},{"p":"c","s":"T4","t":0.0091,"f":0.0892},{"p":"c","s":"T4","t":0.011,"f":0.1087},{"p":"c","s":"T4","t":0.0129,"f":0.1992},{"p":"c","s":"T4","t":0.0148,"f":0.2028},{"p":"c","s":"T4","t":0.0162,"f":0.1845},{"p":"c","s":"T4","t":0.0177,"f":0.2065},{"p":"c","s":"T4","t":0.0193,"f":0.2407},{"p":"c","s":"T4","t":0.0216,"f":0.2236},{"p":"c","s":"T4","t":0.0245,"f":0.2383},{"p":"c","s":"T4","t":0.0274,"f":0.248},{"p":"c","s":"T4","t":0.03,"f":0.256},{"p":"c","s":"T4","t":0.036,"f":0.265},{"p":"c","s":"T4","t":0.042,"f":0.256},{"p":"c","s":"T4","t":0.0438,"f":0.25},{"p":"c","s":"T4","t":0.0467,"f":0.2285},{"p":"c","s":"T4","t":0.0496,"f":0.2102},{"p":"c","s":"T4","t":0.0525,"f":0.2212},{"p":"c","s":"T4","t":0.0564,"f":0.2126},{"p":"c","s":"T4","t":0.0593,"f":0.198},{"p":"c","s":"T4","t":0.0622,"f":0.1869},{"p":"c","s":"T4","t":0.0651,"f":0.1918},{"p":"c","s":"T4","t":0.067,"f":0.1845},{"p":"c","s":"T4","t":0.0699,"f":0.1943},{"p":"c","s":"T4","t":0.0728,"f":0.1894},{"p":"c","s":"T4","t":0.0757,"f":0.1564},{"p":"c","s":"T4","t":0.0786,"f":0.1674},{"p":"c","s":"T4","t":0.0815,"f":0.165},{"p":"c","s":"T4","t":0.0854,"f":0.1613},{"p":"c","s":"T4","t":0.0892,"f":0.1845},{"p":"c","s":"T4","t":0.0931,"f":0.1869},{"p":"c","s":"T4","t":0.096,"f":0.2016},{"p":"c","s":"T4","t":0.0989,"f":0.2187},{"p":"c","s":"T4","t":0.1018,"f":0.2102},{"p":"c","s":"T4","t":0.1047,"f":0.2016},{"p":"c","s":"T4","t":0.1066,"f":0.1906},{"p":"c","s":"T4","t":0.1095,"f":0.1967},{"p":"c","s":"T4","t":0.1124,"f":0.2065},{"p":"c","s":"T4","t":0.1153,"f":0.2138},{"p":"c","s":"T4","t":0.1182,"f":0.2212},{"p":"c","s":"T4","t":0.1211,"f":0.2322},{"p":"c","s":"T4","t":0.125,"f":0.2444},{"p":"c","s":"T4","t":0.1279,"f":0.2383},{"p":"c","s":"T4","t":0.1308,"f":0.2285},{"p":"c","s":"T4","t":0.1337,"f":0.2187},{"p":"c","s":"T4","t":0.1366,"f":0.2065},{"p":"c","s":"T4","t":0.1395,"f":0.1943},{"p":"c","s":"T4","t":0.1414,"f":0.1772},{"p":"c","s":"T4","t":0.1448,"f":0.1723},{"p":"c","s":"T4","t":0.1462,"f":0.1821},{"p":"c","s":"T4","t":0.1491,"f":0.1772},{"p":"c","s":"T4","t":0.152,"f":0.1967},{"p":"c","s":"T4","t":0.1549,"f":0.2041},{"p":"c","s":"T4","t":0.1578,"f":0.2065},{"p":"c","s":"T4","t":0.1598,"f":0.209},{"p":"c","s":"T4","t":0.1627,"f":0.2041},{"p":"c","s":"T4","t":0.1646,"f":0.1967},{"p":"c","s":"T4","t":0.1675,"f":0.2065},{"p":"c","s":"T4","t":0.1704,"f":0.2114},{"p":"c","s":"T4","t":0.1733,"f":0.2065},{"p":"c","s":"T4","t":0.1762,"f":0.2102},{"p":"c","s":"T4","t":0.1791,"f":0.2065},{"p":"c","s":"T4","t":0.182,"f":0.2028},{"p":"c","s":"T4","t":0.1849,"f":0.2053},{"p":"c","s":"T4","t":0.1878,"f":0.209},{"p":"c","s":"T4","t":0.1907,"f":0.2028},{"p":"c","s":"T4","t":0.1936,"f":0.2053},{"p":"c","s":"T4","t":0.1965,"f":0.2065},{"p":"c","s":"T4","t":0.1994,"f":0.1967},{"p":"c","s":"T4","t":0.2023,"f":0.2041},{"p":"c","s":"T4","t":0.2052,"f":0.2163},{"p":"c","s":"T4","t":0.2081,"f":0.2261},{"p":"c","s":"T4","t":0.211,"f":0.2212},{"p":"c","s":"T4","t":0.2139,"f":0.2041},{"p":"c","s":"T4","t":0.2168,"f":0.2102},{"p":"c","s":"T4","t":0.2197,"f":0.2077},{"p":"c","s":"T4","t":0.2226,"f":0.209},{"p":"c","s":"T4","t":0.2255,"f":0.2126},{"p":"c","s":"T4","t":0.2284,"f":0.2004},{"p":"c","s":"T4","t":0.2313,"f":0.2065},{"p":"c","s":"T4","t":0.2342,"f":0.2187},{"p":"c","s":"T4","t":0.2371,"f":0.2334},{"p":"c","s":"T4","t":0.24,"f":0.2456},{"p":"c","s":"T4","t":0.242,"f":0.252},{"p":"c","s":"T4","t":0.25,"f":0.265},{"p":"c","s":"T4","t":0.265,"f":0.27},{"p":"c","s":"T4","t":0.28,"f":0.27},
{"p":"d","s":"T7","t":0.001,"f":0},{"p":"d","s":"T7","t":0.0045,"f":0.0232},{"p":"d","s":"T7","t":0.0078,"f":0.0318},{"p":"d","s":"T7","t":0.0112,"f":0.0318},{"p":"d","s":"T7","t":0.0128,"f":0.0354},{"p":"d","s":"T7","t":0.0161,"f":0.0501},{"p":"d","s":"T7","t":0.0195,"f":0.0916},{"p":"d","s":"T7","t":0.0211,"f":0.1197},{"p":"d","s":"T7","t":0.0244,"f":0.1222},{"p":"d","s":"T7","t":0.0278,"f":0.1283},{"p":"d","s":"T7","t":0.0311,"f":0.1552},{"p":"d","s":"T7","t":0.0344,"f":0.1674},{"p":"d","s":"T7","t":0.0377,"f":0.1625},{"p":"d","s":"T7","t":0.041,"f":0.1601},{"p":"d","s":"T7","t":0.0444,"f":0.1625},{"p":"d","s":"T7","t":0.0477,"f":0.165},{"p":"d","s":"T7","t":0.05,"f":0.1669},{"p":"d","s":"T7","t":0.0543,"f":0.1576},{"p":"d","s":"T7","t":0.0593,"f":0.1515},{"p":"d","s":"T7","t":0.0626,"f":0.143},{"p":"d","s":"T7","t":0.066,"f":0.1332},{"p":"d","s":"T7","t":0.0693,"f":0.1161},{"p":"d","s":"T7","t":0.0726,"f":0.1087},{"p":"d","s":"T7","t":0.0759,"f":0.0892},{"p":"d","s":"T7","t":0.0776,"f":0.1087},{"p":"d","s":"T7","t":0.0809,"f":0.099},{"p":"d","s":"T7","t":0.0842,"f":0.0562},{"p":"d","s":"T7","t":0.0875,"f":0.0623},{"p":"d","s":"T7","t":0.0908,"f":0.0696},{"p":"d","s":"T7","t":0.0958,"f":0.0843},{"p":"d","s":"T7","t":0.0991,"f":0.0892},{"p":"d","s":"T7","t":0.1025,"f":0.0843},{"p":"d","s":"T7","t":0.1058,"f":0.0745},{"p":"d","s":"T7","t":0.1098,"f":0.0452},{"p":"d","s":"T7","t":0.1141,"f":0.0648},{"p":"d","s":"T7","t":0.1174,"f":0.0696},{"p":"d","s":"T7","t":0.1224,"f":0.0599},{"p":"d","s":"T7","t":0.1257,"f":0.0562},{"p":"d","s":"T7","t":0.1307,"f":0.0648},{"p":"d","s":"T7","t":0.134,"f":0.0696},{"p":"d","s":"T7","t":0.1406,"f":0.0758},{"p":"d","s":"T7","t":0.1456,"f":0.0745},{"p":"d","s":"T7","t":0.1506,"f":0.0892},{"p":"d","s":"T7","t":0.1556,"f":0.088},{"p":"d","s":"T7","t":0.1606,"f":0.0892},{"p":"d","s":"T7","t":0.1655,"f":0.0916},{"p":"d","s":"T7","t":0.1689,"f":0.077},{"p":"d","s":"T7","t":0.1738,"f":0.0696},{"p":"d","s":"T7","t":0.1788,"f":0.0513},{"p":"d","s":"T7","t":0.1838,"f":0.0672},{"p":"d","s":"T7","t":0.1888,"f":0.0758},{"p":"d","s":"T7","t":0.1938,"f":0.0745},{"p":"d","s":"T7","t":0.1988,"f":0.0525},{"p":"d","s":"T7","t":0.2037,"f":0.055},{"p":"d","s":"T7","t":0.2087,"f":0.0599},{"p":"d","s":"T7","t":0.2137,"f":0.0758},{"p":"d","s":"T7","t":0.217,"f":0.0599},{"p":"d","s":"T7","t":0.2203,"f":0.0574},{"p":"d","s":"T7","t":0.2253,"f":0.0464},{"p":"d","s":"T7","t":0.2303,"f":0.0477},{"p":"d","s":"T7","t":0.2353,"f":0.0733},{"p":"d","s":"T7","t":0.2386,"f":0.0623},{"p":"d","s":"T7","t":0.2436,"f":0.055},{"p":"d","s":"T7","t":0.2485,"f":0.0452},{"p":"d","s":"T7","t":0.2535,"f":0.0464},{"p":"d","s":"T7","t":0.2585,"f":0.0525},{"p":"d","s":"T7","t":0.2635,"f":0.0648},{"p":"d","s":"T7","t":0.2685,"f":0.0709},{"p":"d","s":"T7","t":0.2734,"f":0.0745},{"p":"d","s":"T7","t":0.2784,"f":0.0892},{"p":"d","s":"T7","t":0.2834,"f":0.099},{"p":"d","s":"T7","t":0.2884,"f":0.1034},{"p":"d","s":"T7","t":0.2934,"f":0.0941},{"p":"d","s":"T7","t":0.2967,"f":0.0696},{"p":"d","s":"T7","t":0.3,"f":0.0477},{"p":"d","s":"T7","t":0.305,"f":0.0501},{"p":"d","s":"T7","t":0.31,"f":0.055},{"p":"d","s":"T7","t":0.315,"f":0.0574},{"p":"d","s":"T7","t":0.32,"f":0.0538},{"p":"d","s":"T7","t":0.3249,"f":0.0599},{"p":"d","s":"T7","t":0.3299,"f":0.0672},{"p":"d","s":"T7","t":0.3332,"f":0.077},{"p":"d","s":"T7","t":0.3365,"f":0.0745},{"p":"d","s":"T7","t":0.3399,"f":0.0941},{"p":"d","s":"T7","t":0.3432,"f":0.1087},{"p":"d","s":"T7","t":0.3482,"f":0.1075},{"p":"d","s":"T7","t":0.3515,"f":0.1092},{"p":"d","s":"T7","t":0.3548,"f":0.099},{"p":"d","s":"T7","t":0.3581,"f":0.0965},{"p":"d","s":"T7","t":0.3614,"f":0.0794},{"p":"d","s":"T7","t":0.3648,"f":0.0599},{"p":"d","s":"T7","t":0.3697,"f":0.0587},{"p":"d","s":"T7","t":0.3747,"f":0.0525},{"p":"d","s":"T7","t":0.3813,"f":0.0574},{"p":"d","s":"T7","t":0.3863,"f":0.0794},{"p":"d","s":"T7","t":0.3913,"f":0.099},{"p":"d","s":"T7","t":0.3963,"f":0.1051},{"p":"d","s":"T7","t":0.4013,"f":0.0978},{"p":"d","s":"T7","t":0.4046,"f":0.0868},{"p":"d","s":"T7","t":0.4096,"f":0.0672},{"p":"d","s":"T7","t":0.4145,"f":0.0525},{"p":"d","s":"T7","t":0.4212,"f":0.0452},{"p":"d","s":"T7","t":0.4278,"f":0.0464},{"p":"d","s":"T7","t":0.4345,"f":0.044},{"p":"d","s":"T7","t":0.4411,"f":0.0452},{"p":"d","s":"T7","t":0.4461,"f":0.0513},{"p":"d","s":"T7","t":0.4511,"f":0.0391},{"p":"d","s":"T7","t":0.4561,"f":0.0501},{"p":"d","s":"T7","t":0.461,"f":0.0574},{"p":"d","s":"T7","t":0.466,"f":0.0648},{"p":"d","s":"T7","t":0.4693,"f":0.0623},{"p":"d","s":"T7","t":0.4727,"f":0.0672},{"p":"d","s":"T7","t":0.4759,"f":0.0831},{"p":"d","s":"T7","t":0.4793,"f":0.0806},
{"p":"d","s":"T6","t":0.001,"f":0},{"p":"d","s":"T6","t":0.0045,"f":0.0232},{"p":"d","s":"T6","t":0.0078,"f":0.033},{"p":"d","s":"T6","t":0.0112,"f":0.034},{"p":"d","s":"T6","t":0.0128,"f":0.037},{"p":"d","s":"T6","t":0.0161,"f":0.052},{"p":"d","s":"T6","t":0.0195,"f":0.0965},{"p":"d","s":"T6","t":0.0211,"f":0.1283},{"p":"d","s":"T6","t":0.0244,"f":0.1307},{"p":"d","s":"T6","t":0.0278,"f":0.1332},{"p":"d","s":"T6","t":0.0311,"f":0.1576},{"p":"d","s":"T6","t":0.0344,"f":0.1747},{"p":"d","s":"T6","t":0.0394,"f":0.1747},{"p":"d","s":"T6","t":0.0444,"f":0.1772},{"p":"d","s":"T6","t":0.05,"f":0.1723},{"p":"d","s":"T6","t":0.0543,"f":0.1723},{"p":"d","s":"T6","t":0.0593,"f":0.1674},{"p":"d","s":"T6","t":0.0626,"f":0.1625},{"p":"d","s":"T6","t":0.0676,"f":0.1576},{"p":"d","s":"T6","t":0.0709,"f":0.143},{"p":"d","s":"T6","t":0.0759,"f":0.121},{"p":"d","s":"T6","t":0.0809,"f":0.1087},{"p":"d","s":"T6","t":0.0842,"f":0.0892},{"p":"d","s":"T6","t":0.0892,"f":0.0868},{"p":"d","s":"T6","t":0.0942,"f":0.0941},{"p":"d","s":"T6","t":0.0991,"f":0.099},{"p":"d","s":"T6","t":0.1041,"f":0.0941},{"p":"d","s":"T6","t":0.1091,"f":0.0819},{"p":"d","s":"T6","t":0.1157,"f":0.0843},{"p":"d","s":"T6","t":0.124,"f":0.0868},{"p":"d","s":"T6","t":0.1307,"f":0.0941},{"p":"d","s":"T6","t":0.139,"f":0.1039},{"p":"d","s":"T6","t":0.1473,"f":0.1136},{"p":"d","s":"T6","t":0.1539,"f":0.1149},{"p":"d","s":"T6","t":0.1622,"f":0.1112},{"p":"d","s":"T6","t":0.1705,"f":0.0978},{"p":"d","s":"T6","t":0.1788,"f":0.099},{"p":"d","s":"T6","t":0.1855,"f":0.1002},{"p":"d","s":"T6","t":0.1921,"f":0.0868},{"p":"d","s":"T6","t":0.1987,"f":0.0843},{"p":"d","s":"T6","t":0.2054,"f":0.0892},{"p":"d","s":"T6","t":0.212,"f":0.1087},{"p":"d","s":"T6","t":0.2187,"f":0.1112},{"p":"d","s":"T6","t":0.2253,"f":0.1136},{"p":"d","s":"T6","t":0.2319,"f":0.099},{"p":"d","s":"T6","t":0.2369,"f":0.1063},{"p":"d","s":"T6","t":0.2419,"f":0.0941},{"p":"d","s":"T6","t":0.2502,"f":0.0965},{"p":"d","s":"T6","t":0.2552,"f":0.0929},{"p":"d","s":"T6","t":0.2602,"f":0.1039},{"p":"d","s":"T6","t":0.2668,"f":0.1185},{"p":"d","s":"T6","t":0.2734,"f":0.1234},{"p":"d","s":"T6","t":0.2801,"f":0.1307},{"p":"d","s":"T6","t":0.2867,"f":0.1381},{"p":"d","s":"T6","t":0.2917,"f":0.1405},{"p":"d","s":"T6","t":0.2983,"f":0.1332},{"p":"d","s":"T6","t":0.305,"f":0.1234},{"p":"d","s":"T6","t":0.3116,"f":0.1063},{"p":"d","s":"T6","t":0.3166,"f":0.0953},{"p":"d","s":"T6","t":0.3216,"f":0.0965},{"p":"d","s":"T6","t":0.3282,"f":0.1087},{"p":"d","s":"T6","t":0.3349,"f":0.1307},{"p":"d","s":"T6","t":0.3415,"f":0.1527},{"p":"d","s":"T6","t":0.3482,"f":0.1723},{"p":"d","s":"T6","t":0.3548,"f":0.1857},{"p":"d","s":"T6","t":0.3598,"f":0.1894},{"p":"d","s":"T6","t":0.3664,"f":0.1857},{"p":"d","s":"T6","t":0.3731,"f":0.1772},{"p":"d","s":"T6","t":0.3797,"f":0.1576},{"p":"d","s":"T6","t":0.3847,"f":0.1405},{"p":"d","s":"T6","t":0.3913,"f":0.1381},{"p":"d","s":"T6","t":0.3963,"f":0.1332},{"p":"d","s":"T6","t":0.4013,"f":0.1307},{"p":"d","s":"T6","t":0.4079,"f":0.1307},{"p":"d","s":"T6","t":0.4129,"f":0.1271},{"p":"d","s":"T6","t":0.4195,"f":0.1185},{"p":"d","s":"T6","t":0.4245,"f":0.1039},{"p":"d","s":"T6","t":0.4311,"f":0.0892},{"p":"d","s":"T6","t":0.4361,"f":0.0843},{"p":"d","s":"T6","t":0.4411,"f":0.0916},{"p":"d","s":"T6","t":0.4461,"f":0.0978},{"p":"d","s":"T6","t":0.4511,"f":0.1014},{"p":"d","s":"T6","t":0.4544,"f":0.1039},{"p":"d","s":"T6","t":0.4577,"f":0.1185},{"p":"d","s":"T6","t":0.4627,"f":0.1356},{"p":"d","s":"T6","t":0.4677,"f":0.1405},{"p":"d","s":"T6","t":0.4727,"f":0.1442},{"p":"d","s":"T6","t":0.4759,"f":0.1552},{"p":"d","s":"T6","t":0.4793,"f":0.1662},
{"p":"d","s":"T5","t":0.001,"f":0},{"p":"d","s":"T5","t":0.0045,"f":0.0232},{"p":"d","s":"T5","t":0.0078,"f":0.034},{"p":"d","s":"T5","t":0.0112,"f":0.035},{"p":"d","s":"T5","t":0.0128,"f":0.038},{"p":"d","s":"T5","t":0.0161,"f":0.053},{"p":"d","s":"T5","t":0.0195,"f":0.098},{"p":"d","s":"T5","t":0.0211,"f":0.1332},{"p":"d","s":"T5","t":0.0244,"f":0.1356},{"p":"d","s":"T5","t":0.0278,"f":0.1356},{"p":"d","s":"T5","t":0.0311,"f":0.1601},{"p":"d","s":"T5","t":0.0344,"f":0.1857},{"p":"d","s":"T5","t":0.0394,"f":0.1772},{"p":"d","s":"T5","t":0.0444,"f":0.1808},{"p":"d","s":"T5","t":0.05,"f":0.1747},{"p":"d","s":"T5","t":0.0543,"f":0.1686},{"p":"d","s":"T5","t":0.0593,"f":0.1662},{"p":"d","s":"T5","t":0.0643,"f":0.1601},{"p":"d","s":"T5","t":0.0676,"f":0.1454},{"p":"d","s":"T5","t":0.0709,"f":0.1332},{"p":"d","s":"T5","t":0.0759,"f":0.1307},{"p":"d","s":"T5","t":0.0792,"f":0.1234},{"p":"d","s":"T5","t":0.0832,"f":0.1039},{"p":"d","s":"T5","t":0.0875,"f":0.0965},{"p":"d","s":"T5","t":0.0925,"f":0.0978},{"p":"d","s":"T5","t":0.0991,"f":0.1075},{"p":"d","s":"T5","t":0.1041,"f":0.1051},{"p":"d","s":"T5","t":0.1091,"f":0.0892},{"p":"d","s":"T5","t":0.1141,"f":0.0929},{"p":"d","s":"T5","t":0.1224,"f":0.0941},{"p":"d","s":"T5","t":0.1307,"f":0.099},{"p":"d","s":"T5","t":0.139,"f":0.1087},{"p":"d","s":"T5","t":0.1473,"f":0.1185},{"p":"d","s":"T5","t":0.1539,"f":0.1234},{"p":"d","s":"T5","t":0.1622,"f":0.1222},{"p":"d","s":"T5","t":0.1705,"f":0.121},{"p":"d","s":"T5","t":0.1772,"f":0.1112},{"p":"d","s":"T5","t":0.1855,"f":0.1087},{"p":"d","s":"T5","t":0.1938,"f":0.1026},{"p":"d","s":"T5","t":0.2004,"f":0.0965},{"p":"d","s":"T5","t":0.2054,"f":0.099},{"p":"d","s":"T5","t":0.212,"f":0.1161},{"p":"d","s":"T5","t":0.2187,"f":0.1259},{"p":"d","s":"T5","t":0.227,"f":0.1222},{"p":"d","s":"T5","t":0.2336,"f":0.121},{"p":"d","s":"T5","t":0.2402,"f":0.1112},{"p":"d","s":"T5","t":0.2469,"f":0.1087},{"p":"d","s":"T5","t":0.2535,"f":0.1112},{"p":"d","s":"T5","t":0.2602,"f":0.1136},{"p":"d","s":"T5","t":0.2668,"f":0.1283},{"p":"d","s":"T5","t":0.2734,"f":0.1344},{"p":"d","s":"T5","t":0.2801,"f":0.1381},{"p":"d","s":"T5","t":0.2851,"f":0.1454},{"p":"d","s":"T5","t":0.29,"f":0.1503},{"p":"d","s":"T5","t":0.2967,"f":0.1405},{"p":"d","s":"T5","t":0.3033,"f":0.1332},{"p":"d","s":"T5","t":0.31,"f":0.1136},{"p":"d","s":"T5","t":0.3166,"f":0.1044},{"p":"d","s":"T5","t":0.3232,"f":0.1087},{"p":"d","s":"T5","t":0.3299,"f":0.1259},{"p":"d","s":"T5","t":0.3365,"f":0.1503},{"p":"d","s":"T5","t":0.3432,"f":0.1747},{"p":"d","s":"T5","t":0.3498,"f":0.1894},{"p":"d","s":"T5","t":0.3548,"f":0.1967},{"p":"d","s":"T5","t":0.3598,"f":0.2065},{"p":"d","s":"T5","t":0.3648,"f":0.2114},{"p":"d","s":"T5","t":0.3697,"f":0.2065},{"p":"d","s":"T5","t":0.3747,"f":0.1918},{"p":"d","s":"T5","t":0.3797,"f":0.1674},{"p":"d","s":"T5","t":0.3863,"f":0.1527},{"p":"d","s":"T5","t":0.393,"f":0.143},{"p":"d","s":"T5","t":0.3979,"f":0.1405},{"p":"d","s":"T5","t":0.4046,"f":0.143},{"p":"d","s":"T5","t":0.4112,"f":0.1405},{"p":"d","s":"T5","t":0.4179,"f":0.1307},{"p":"d","s":"T5","t":0.4245,"f":0.1185},{"p":"d","s":"T5","t":0.4311,"f":0.1039},{"p":"d","s":"T5","t":0.4378,"f":0.099},{"p":"d","s":"T5","t":0.4444,"f":0.1063},{"p":"d","s":"T5","t":0.4511,"f":0.1112},{"p":"d","s":"T5","t":0.4561,"f":0.1185},{"p":"d","s":"T5","t":0.461,"f":0.1332},{"p":"d","s":"T5","t":0.466,"f":0.1405},{"p":"d","s":"T5","t":0.471,"f":0.1454},{"p":"d","s":"T5","t":0.4759,"f":0.1601},{"p":"d","s":"T5","t":0.4793,"f":0.1784},
{"p":"d","s":"T4","t":0.0012,"f":0.1527},{"p":"d","s":"T4","t":0.0035,"f":0.1967},{"p":"d","s":"T4","t":0.0055,"f":0.204},{"p":"d","s":"T4","t":0.0078,"f":0.1259},{"p":"d","s":"T4","t":0.0095,"f":0.0745},{"p":"d","s":"T4","t":0.0122,"f":0.1014},{"p":"d","s":"T4","t":0.0145,"f":0.1869},{"p":"d","s":"T4","t":0.0161,"f":0.1918},{"p":"d","s":"T4","t":0.0188,"f":0.1943},{"p":"d","s":"T4","t":0.0211,"f":0.2212},{"p":"d","s":"T4","t":0.0244,"f":0.1918},{"p":"d","s":"T4","t":0.0278,"f":0.2065},{"p":"d","s":"T4","t":0.0311,"f":0.2212},{"p":"d","s":"T4","t":0.0334,"f":0.2407},{"p":"d","s":"T4","t":0.0367,"f":0.2285},{"p":"d","s":"T4","t":0.041,"f":0.2432},{"p":"d","s":"T4","t":0.046,"f":0.248},{"p":"d","s":"T4","t":0.0493,"f":0.2505},{"p":"d","s":"T4","t":0.0543,"f":0.2419},{"p":"d","s":"T4","t":0.0593,"f":0.2432},{"p":"d","s":"T4","t":0.0643,"f":0.2383},{"p":"d","s":"T4","t":0.0693,"f":0.2236},{"p":"d","s":"T4","t":0.0742,"f":0.2089},{"p":"d","s":"T4","t":0.0776,"f":0.2016},{"p":"d","s":"T4","t":0.0809,"f":0.2077},{"p":"d","s":"T4","t":0.0825,"f":0.1967},{"p":"d","s":"T4","t":0.0859,"f":0.1674},{"p":"d","s":"T4","t":0.0892,"f":0.1698},{"p":"d","s":"T4","t":0.0932,"f":0.1601},{"p":"d","s":"T4","t":0.0975,"f":0.1747},{"p":"d","s":"T4","t":0.1025,"f":0.1894},{"p":"d","s":"T4","t":0.1074,"f":0.1821},{"p":"d","s":"T4","t":0.1114,"f":0.1479},{"p":"d","s":"T4","t":0.1157,"f":0.1576},{"p":"d","s":"T4","t":0.1207,"f":0.1625},{"p":"d","s":"T4","t":0.1257,"f":0.1589},{"p":"d","s":"T4","t":0.1307,"f":0.1674},{"p":"d","s":"T4","t":0.1357,"f":0.1625},{"p":"d","s":"T4","t":0.1406,"f":0.1711},{"p":"d","s":"T4","t":0.1456,"f":0.1698},{"p":"d","s":"T4","t":0.1506,"f":0.1845},{"p":"d","s":"T4","t":0.1556,"f":0.1808},{"p":"d","s":"T4","t":0.1606,"f":0.1821},{"p":"d","s":"T4","t":0.1655,"f":0.1857},{"p":"d","s":"T4","t":0.1705,"f":0.1821},{"p":"d","s":"T4","t":0.1755,"f":0.1723},{"p":"d","s":"T4","t":0.1805,"f":0.1674},{"p":"d","s":"T4","t":0.1855,"f":0.1637},{"p":"d","s":"T4","t":0.1904,"f":0.1625},{"p":"d","s":"T4","t":0.1954,"f":0.1589},{"p":"d","s":"T4","t":0.1987,"f":0.1479},{"p":"d","s":"T4","t":0.2037,"f":0.1503},{"p":"d","s":"T4","t":0.2087,"f":0.1466},{"p":"d","s":"T4","t":0.2137,"f":0.1723},{"p":"d","s":"T4","t":0.2187,"f":0.1772},{"p":"d","s":"T4","t":0.2236,"f":0.1796},{"p":"d","s":"T4","t":0.2286,"f":0.1698},{"p":"d","s":"T4","t":0.2336,"f":0.1772},{"p":"d","s":"T4","t":0.2386,"f":0.1674},{"p":"d","s":"T4","t":0.2436,"f":0.1576},{"p":"d","s":"T4","t":0.2469,"f":0.1527},{"p":"d","s":"T4","t":0.2502,"f":0.165},{"p":"d","s":"T4","t":0.2552,"f":0.1625},{"p":"d","s":"T4","t":0.2602,"f":0.1674},{"p":"d","s":"T4","t":0.2651,"f":0.1747},{"p":"d","s":"T4","t":0.2685,"f":0.1821},{"p":"d","s":"T4","t":0.2734,"f":0.1747},{"p":"d","s":"T4","t":0.2784,"f":0.176},{"p":"d","s":"T4","t":0.2834,"f":0.1821},{"p":"d","s":"T4","t":0.2884,"f":0.1869},{"p":"d","s":"T4","t":0.2934,"f":0.1906},{"p":"d","s":"T4","t":0.2983,"f":0.1869},{"p":"d","s":"T4","t":0.3033,"f":0.1747},{"p":"d","s":"T4","t":0.3083,"f":0.1772},{"p":"d","s":"T4","t":0.3133,"f":0.1576},{"p":"d","s":"T4","t":0.3183,"f":0.1625},{"p":"d","s":"T4","t":0.3216,"f":0.1552},{"p":"d","s":"T4","t":0.3266,"f":0.165},{"p":"d","s":"T4","t":0.3316,"f":0.1747},{"p":"d","s":"T4","t":0.3365,"f":0.1894},{"p":"d","s":"T4","t":0.3415,"f":0.198},{"p":"d","s":"T4","t":0.3449,"f":0.2065},{"p":"d","s":"T4","t":0.3498,"f":0.2138},{"p":"d","s":"T4","t":0.3548,"f":0.2261},{"p":"d","s":"T4","t":0.3598,"f":0.2407},{"p":"d","s":"T4","t":0.3648,"f":0.2493},{"p":"d","s":"T4","t":0.3697,"f":0.2505},{"p":"d","s":"T4","t":0.3747,"f":0.2432},{"p":"d","s":"T4","t":0.3797,"f":0.2358},{"p":"d","s":"T4","t":0.3847,"f":0.2322},{"p":"d","s":"T4","t":0.388,"f":0.2163},{"p":"d","s":"T4","t":0.393,"f":0.2102},{"p":"d","s":"T4","t":0.3979,"f":0.2028},{"p":"d","s":"T4","t":0.4029,"f":0.1967},{"p":"d","s":"T4","t":0.4079,"f":0.2004},{"p":"d","s":"T4","t":0.4129,"f":0.1967},{"p":"d","s":"T4","t":0.4179,"f":0.1918},{"p":"d","s":"T4","t":0.4228,"f":0.1845},{"p":"d","s":"T4","t":0.4278,"f":0.1821},{"p":"d","s":"T4","t":0.4311,"f":0.1674},{"p":"d","s":"T4","t":0.4361,"f":0.1576},{"p":"d","s":"T4","t":0.4394,"f":0.1479},{"p":"d","s":"T4","t":0.4428,"f":0.1625},{"p":"d","s":"T4","t":0.4461,"f":0.1723},{"p":"d","s":"T4","t":0.4494,"f":0.1772},{"p":"d","s":"T4","t":0.4544,"f":0.1723},{"p":"d","s":"T4","t":0.4577,"f":0.1821},{"p":"d","s":"T4","t":0.4627,"f":0.1857},{"p":"d","s":"T4","t":0.4677,"f":0.1894},{"p":"d","s":"T4","t":0.471,"f":0.1943},{"p":"d","s":"T4","t":0.4743,"f":0.1967},{"p":"d","s":"T4","t":0.4776,"f":0.2077},{"p":"d","s":"T4","t":0.4793,"f":0.2187}
]},
"data":{"name":"main"},
"concat":[
{"width":517,"height":342,
"title":{"text":"(a)","anchor":"end","offset":-47,"dx":-29,"baseline":"middle","frame":"group"},
"layer":[
{"transform":[{"filter":"datum.p==='a'"}],
"mark":{"type":"line","clip":true,"strokeWidth":1.4},
"encoding":{
"x":{"field":"t","type":"quantitative","scale":{"domain":[0.001,0.075],"nice":false,"zero":false},"axis":{"orient":"bottom","values":[0.01,0.02,0.03,0.04,0.05,0.06,0.07],"format":"~g","title":"Time (Myr)"}},
"y":{"field":"f","type":"quantitative","scale":{"domain":[0,0.25],"nice":false},"axis":{"orient":"left","values":[0,0.05,0.1,0.15,0.2,0.25],"format":"~g","title":"fᵥ(>Tₜₕ)","titleX":-32,"titleY":171,"titleAngle":-90,"titleBaseline":"middle","titleAlign":"center"}},
"color":{"field":"s","type":"nominal","scale":{"domain":["T7","T6","T5","T4"],"range":["#1a1ae6","#1a1ae6","#1a1ae6","#3a3a3a"]},
"legend":{"orient":"none","legendX":100,"legendY":8,"title":null,"symbolType":"M0,0H10","symbolSize":100,"symbolStrokeWidth":1.5,"labelFont":"Liberation Serif","labelFontSize":17,"labelColor":"#000","labelAlign":"right","labelOffset":-28,"rowPadding":6,"padding":0,"labelLimit":200,"labelExpr":"datum.label=='T7'?'Tₜₕ=10⁷ K':datum.label=='T6'?'Tₜₕ=10⁶ K':datum.label=='T5'?'Tₜₕ=10⁵ K':'Tₜₕ=10⁴ K'"}},
"strokeDash":{"field":"s","type":"nominal","scale":{"domain":["T7","T6","T5","T4"],"range":[[1,0],[10,4],[4,3],[1.5,2.5]]}}
}},
{"data":{"values":[{"t":0.035}]},"mark":{"type":"rule","color":"#333","strokeDash":[6,4],"strokeWidth":1.3},
"encoding":{"x":{"field":"t","type":"quantitative","scale":{"domain":[0.001,0.075],"nice":false,"zero":false},"axis":null}}},
{"data":{"values":[{}]},"mark":{"type":"point","opacity":0},
"encoding":{"x":{"datum":0.03,"type":"quantitative","scale":{"domain":[0.001,0.075],"nice":false,"zero":false},"axis":{"orient":"top","labels":false,"title":null,"values":[0.01,0.02,0.03,0.04,0.05,0.06,0.07]}},
"y":{"datum":0.1,"type":"quantitative","scale":{"domain":[0,0.25],"nice":false},"axis":{"orient":"right","labels":false,"title":null,"values":[0,0.05,0.1,0.15,0.2,0.25]}}}}
],
"resolve":{"axis":{"x":"independent","y":"independent"}}},
{"width":517,"height":342,
"title":{"text":"(b)","anchor":"end","offset":-47,"dx":-29,"baseline":"middle","frame":"group"},
"layer":[
{"transform":[{"filter":"datum.p==='b'"}],
"mark":{"type":"line","clip":true,"strokeWidth":1.4},
"encoding":{
"x":{"field":"t","type":"quantitative","scale":{"domain":[0.001,0.205],"nice":false,"zero":false},"axis":{"orient":"bottom","values":[0.05,0.1,0.15,0.2],"format":"~g","title":"Time (Myr)"}},
"y":{"field":"f","type":"quantitative","scale":{"domain":[0,0.25],"nice":false},"axis":{"orient":"left","values":[0,0.05,0.1,0.15,0.2,0.25],"format":"~g","title":"fᵥ(>Tₜₕ)","titleX":-32,"titleY":171,"titleAngle":-90,"titleBaseline":"middle","titleAlign":"center"}},
"color":{"field":"s","type":"nominal","scale":{"domain":["T7","T6","T5","T4"],"range":["#1a1ae6","#1a1ae6","#1a1ae6","#3a3a3a"]},"legend":null},
"strokeDash":{"field":"s","type":"nominal","scale":{"domain":["T7","T6","T5","T4"],"range":[[1,0],[10,4],[4,3],[1.5,2.5]]},"legend":null}
}},
{"data":{"values":[{"t":0.14}]},"mark":{"type":"rule","color":"#333","strokeDash":[6,4],"strokeWidth":1.3},
"encoding":{"x":{"field":"t","type":"quantitative","scale":{"domain":[0.001,0.205],"nice":false,"zero":false},"axis":null}}},
{"data":{"values":[{}]},"mark":{"type":"point","opacity":0},
"encoding":{"x":{"datum":0.1,"type":"quantitative","scale":{"domain":[0.001,0.205],"nice":false,"zero":false},"axis":{"orient":"top","labels":false,"title":null,"values":[0.05,0.1,0.15,0.2]}},
"y":{"datum":0.1,"type":"quantitative","scale":{"domain":[0,0.25],"nice":false},"axis":{"orient":"right","labels":false,"title":null,"values":[0,0.05,0.1,0.15,0.2,0.25]}}}}
],
"resolve":{"axis":{"x":"independent","y":"independent"}}},
{"width":517,"height":342,
"title":{"text":"(c)","anchor":"start","offset":-52,"dx":23,"baseline":"middle","frame":"group"},
"layer":[
{"transform":[{"filter":"datum.p==='c'"}],
"mark":{"type":"line","clip":true,"strokeWidth":1.4},
"encoding":{
"x":{"field":"t","type":"quantitative","scale":{"domain":[0.001,0.28],"nice":false,"zero":false},"axis":{"orient":"bottom","values":[0.05,0.1,0.15,0.2,0.25],"format":"~g","title":"Time (Myr)"}},
"y":{"field":"f","type":"quantitative","scale":{"domain":[0,0.25],"nice":false},"axis":{"orient":"left","values":[0,0.05,0.1,0.15,0.2,0.25],"format":"~g","title":"fᵥ(>Tₜₕ)","titleX":-32,"titleY":171,"titleAngle":-90,"titleBaseline":"middle","titleAlign":"center"}},
"color":{"field":"s","type":"nominal","scale":{"domain":["T7","T6","T5","T4"],"range":["#1a1ae6","#1a1ae6","#1a1ae6","#3a3a3a"]},"legend":null},
"strokeDash":{"field":"s","type":"nominal","scale":{"domain":["T7","T6","T5","T4"],"range":[[1,0],[10,4],[4,3],[1.5,2.5]]},"legend":null}
}},
{"data":{"values":[{}]},"mark":{"type":"point","opacity":0},
"encoding":{"x":{"datum":0.1,"type":"quantitative","scale":{"domain":[0.001,0.28],"nice":false,"zero":false},"axis":{"orient":"top","labels":false,"title":null,"values":[0.05,0.1,0.15,0.2,0.25]}},
"y":{"datum":0.1,"type":"quantitative","scale":{"domain":[0,0.25],"nice":false},"axis":{"orient":"right","labels":false,"title":null,"values":[0,0.05,0.1,0.15,0.2,0.25]}}}}
],
"resolve":{"axis":{"x":"independent","y":"independent"}}},
{"width":517,"height":342,
"title":{"text":"(d)","anchor":"end","offset":-52,"dx":-29,"baseline":"middle","frame":"group"},
"layer":[
{"transform":[{"filter":"datum.p==='d'"}],
"mark":{"type":"line","clip":true,"strokeWidth":1.4},
"encoding":{
"x":{"field":"t","type":"quantitative","scale":{"domain":[0.001,0.48],"nice":false,"zero":false},"axis":{"orient":"bottom","values":[0.05,0.1,0.15,0.2,0.25,0.3,0.35,0.4,0.45],"format":"~g","title":"Time (Myr)"}},
"y":{"field":"f","type":"quantitative","scale":{"domain":[0,0.25],"nice":false},"axis":{"orient":"left","values":[0,0.05,0.1,0.15,0.2,0.25],"format":"~g","title":"fᵥ(>Tₜₕ)","titleX":-32,"titleY":171,"titleAngle":-90,"titleBaseline":"middle","titleAlign":"center"}},
"color":{"field":"s","type":"nominal","scale":{"domain":["T7","T6","T5","T4"],"range":["#1a1ae6","#1a1ae6","#1a1ae6","#3a3a3a"]},"legend":null},
"strokeDash":{"field":"s","type":"nominal","scale":{"domain":["T7","T6","T5","T4"],"range":[[1,0],[10,4],[4,3],[1.5,2.5]]},"legend":null}
}},
{"data":{"values":[{}]},"mark":{"type":"point","opacity":0},
"encoding":{"x":{"datum":0.1,"type":"quantitative","scale":{"domain":[0.001,0.48],"nice":false,"zero":false},"axis":{"orient":"top","labels":false,"title":null,"values":[0.05,0.1,0.15,0.2,0.25,0.3,0.35,0.4,0.45]}},
"y":{"datum":0.1,"type":"quantitative","scale":{"domain":[0,0.25],"nice":false},"axis":{"orient":"right","labels":false,"title":null,"values":[0,0.05,0.1,0.15,0.2,0.25]}}}}
],
"resolve":{"axis":{"x":"independent","y":"independent"}}}
],
"columns":2,
"spacing":{"row":94,"column":102},
"bounds":"flush",
"resolve":{"scale":{"x":"independent","y":"independent"},"legend":{"color":"independent","strokeDash":"independent"}}
}
